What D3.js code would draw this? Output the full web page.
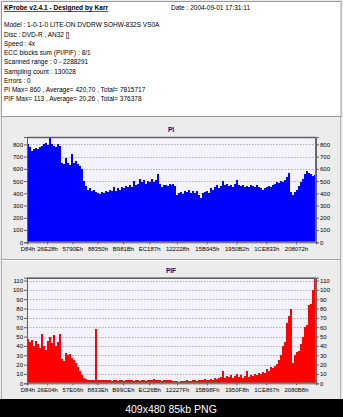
<!DOCTYPE html>
<html><head><meta charset="utf-8">
<script src="https://cdn.jsdelivr.net/npm/d3@7"></script>
<style>html,body{margin:0;padding:0;background:#000;}svg{display:block;}</style>
</head><body>
<svg id="c" width="343" height="417"></svg>
<script>
// ---- data ----
const headerTitle = "KProbe v2.4.1 - Designed by Karr";
const headerDate = "Date : 2004-09-01 17:31:11";
const headerLines = [
  "Model : 1-0-1-0 LITE-ON DVDRW SOHW-832S  VS0A",
  "Disc : DVD-R , AN32 []",
  "Speed : 4x",
  "ECC blocks sum (PI/PIF) : 8/1",
  "Scanned range : 0 - 2288291",
  "Sampling count : 130028",
  "Errors : 0",
  "PI Max= 860 , Average= 420,70 , Total= 7815717",
  "PIF Max= 113 , Average= 20,26 , Total= 376378"
];
const sectorMax = 2288291;
const piXTicks = ["D84h","26E28h","5790Eh","88350h","B981Bh","EC187h","122228h","15B945h","1950B2h","1CE833h","208072h"];
const pifXTicks = ["D84h","26E04h","57E06h","8833Eh","B99CEh","EC26Bh","12227Fh","15B98Fh","1950F8h","1CE867h","2080B8h"];
const piYTicks = [0,100,200,300,400,500,600,700,800];
const pifYTicks = [0,10,20,30,40,50,60,70,80,90,100,110];
const piMax = 860, pifMax = 113;
const piValues = [800,780,745,760,770,765,780,790,800,810,795,860,800,790,775,800,790,650,640,690,
650,630,720,650,660,640,620,600,500,460,430,445,420,425,410,400,395,410,405,420,
410,430,415,450,420,440,430,450,445,460,450,470,455,500,470,480,520,490,510,480,
500,490,520,495,510,560,480,450,465,470,460,475,470,480,460,390,400,410,395,420,
410,430,405,415,400,420,390,360,400,410,420,400,440,430,450,470,440,460,500,470,
480,460,470,450,475,510,465,460,470,455,460,450,470,460,455,470,450,440,430,445,
450,460,455,470,480,490,485,500,495,510,530,570,410,390,410,430,460,490,520,560,
580,570,560,540,550];
const pifValues = [47,44,46,40,45,42,38,53,40,36,45,50,43,52,40,44,53,26,24,32,
30,31,27,25,22,17,13,9,6,5,4,4,3,4,58,3,4,3,3,4,
3,3,2,3,3,2,3,3,2,3,3,4,3,2,3,3,2,3,3,2,
3,3,4,5,4,3,3,2,3,3,4,3,3,2,2,2,1,2,2,2,
3,2,2,3,3,2,3,4,3,5,4,3,5,4,6,5,6,7,13,6,
8,7,9,6,8,10,7,9,6,8,13,7,9,8,10,9,11,10,12,11,
15,13,17,16,19,21,25,30,40,44,65,72,80,22,30,33,35,42,50,60,
62,84,85,100,113];

// ---- drawing ----
const svg = d3.select("#c");
const FONT = "'Liberation Sans', Arial, sans-serif";
svg.append("rect").attr("x",0).attr("y",0).attr("width",343).attr("height",417).attr("fill","#000");
svg.append("rect").attr("x",0).attr("y",0).attr("width",343).attr("height",399).attr("fill","#ececec");
svg.append("rect").attr("x",1.5).attr("y",1.5).attr("width",339.5).attr("height",115)
  .attr("fill","#fff").attr("stroke","#9a9a9a");

svg.append("text").attr("x",4).attr("y",10.3).attr("font-family",FONT).attr("font-size",6.6)
  .attr("font-weight","bold").attr("text-decoration","underline").attr("fill","#000").text(headerTitle);
svg.append("text").attr("x",171).attr("y",10.3).attr("font-family",FONT).attr("font-size",6.5)
  .attr("fill","#000").text(headerDate);
const lineY = [27.3,36.5,45.8,55,64.3,73.5,82.5,92,101.3];
svg.selectAll("text.hl").data(headerLines).join("text").attr("class","hl")
  .attr("x",4).attr("y",(d,i)=>lineY[i]).attr("font-family",FONT).attr("font-size",6.5)
  .attr("fill","#000").text(d=>d);

// separators
svg.append("line").attr("x1",2).attr("x2",341).attr("y1",259.5).attr("y2",259.5).attr("stroke","#a0a0a0");
svg.append("line").attr("x1",2).attr("x2",341).attr("y1",260.5).attr("y2",260.5).attr("stroke","#fff");
svg.append("line").attr("x1",1.5).attr("x2",1.5).attr("y1",117).attr("y2",399).attr("stroke","#b0b0b0");
svg.append("line").attr("x1",340.5).attr("x2",340.5).attr("y1",117).attr("y2",399).attr("stroke","#b0b0b0");

function chart(cfg){
  const L=27, R=316, T=cfg.top, B=cfg.bottom;
  const g = svg.append("g");
  g.append("rect").attr("x",L).attr("y",T).attr("width",R-L).attr("height",B-T).attr("fill","#f3f3ff");
  const y = d3.scaleLinear().domain([0,cfg.max]).range([B,T]);
  const xi = d3.scaleLinear().domain([0,cfg.values.length]).range([L,R]);
  const xs = d3.scaleLinear().domain([0,sectorMax]).range([L,R]);
  // grid
  g.selectAll("line.grid").data(cfg.yTicks.filter(d=>d>0)).join("line").attr("class","grid")
    .attr("x1",L).attr("x2",R).attr("y1",d=>Math.round(y(d))+0.5).attr("y2",d=>Math.round(y(d))+0.5)
    .attr("stroke","#9a9a9a").attr("stroke-dasharray","1.5,1.5").attr("stroke-width",0.8);
  // bars as a stepped area (no gaps between samples)
  const pts = cfg.values.concat([cfg.values[cfg.values.length-1]]);
  const area = d3.area().curve(d3.curveStepAfter).x((d,i)=>xi(i)).y0(B).y1(d=>y(d));
  g.append("path").datum(pts).attr("d",area).attr("fill",cfg.color).attr("shape-rendering","crispEdges");
  // frame
  g.append("rect").attr("x",L+0.5).attr("y",T+0.5).attr("width",R-L-1).attr("height",B-T-1)
    .attr("fill","none").attr("stroke","#707070");
  g.append("line").attr("x1",L).attr("x2",R).attr("y1",T+0.5).attr("y2",T+0.5).attr("stroke","#606060").attr("stroke-width",1.5);
  // axes
  const ax = (a)=>a.tickValues(cfg.yTicks).tickSize(3).tickPadding(1);
  const gl = g.append("g").attr("transform",`translate(${L},0)`).call(ax(d3.axisLeft(y)));
  const gr = g.append("g").attr("transform",`translate(${R},0)`).call(ax(d3.axisRight(y)));
  const gx = g.append("g").attr("transform",`translate(0,${B})`)
    .call(d3.axisBottom(xs).tickValues(cfg.xTicks.map(t=>parseInt(t,16))).tickSize(2).tickPadding(2)
      .tickFormat((d,i)=>cfg.xTicks[i]));
  [gl,gr,gx].forEach(a=>{
    a.selectAll(".domain").attr("stroke","#606060");
    a.selectAll(".tick line").attr("stroke","#606060");
    a.selectAll("text").attr("font-family",FONT).attr("font-size",6).attr("fill","#000");
  });
  g.append("text").attr("x",171).attr("y",cfg.titleY).attr("text-anchor","middle")
    .attr("font-family",FONT).attr("font-size",6.5).attr("font-weight","bold").attr("fill","#000080").text(cfg.title);
}
chart({top:137,bottom:242.3,max:piMax,values:piValues,yTicks:piYTicks,xTicks:piXTicks,color:"#0000ff",title:"PI",titleY:132.3});
chart({top:277.7,bottom:383.3,max:pifMax,values:pifValues,yTicks:pifYTicks,xTicks:pifXTicks,color:"#ff0000",title:"PIF",titleY:273.3});

svg.append("text").attr("x",171).attr("y",412.5).attr("text-anchor","middle").attr("font-family",FONT)
  .attr("font-size",10.5).attr("fill","#fff").text("409x480 85kb PNG");
</script>
</body></html>
